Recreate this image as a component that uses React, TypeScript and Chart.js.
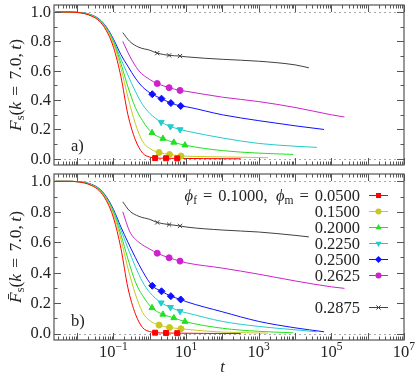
import React, { useEffect, useRef } from 'react';
import { Chart, registerables } from 'chart.js';

Chart.register(...registerables);

const FONT = '"Liberation Serif", "DejaVu Serif", serif';
const FS = 16.5;
const FS_TITLE = 17.5;

const X_MIN = 0.0023;
const X_MAX = 1e7;
const Y_MIN = -0.042;
const Y_MAX = 1.048;

const PHI_M = ['0.0500', '0.1500', '0.2000', '0.2250', '0.2500', '0.2625', '0.2875'];
const LEGEND_ROW = [0, 1, 2, 3, 4, 5, 7];
const COLORS = ['#ff0000', '#c8c820', '#22e022', '#22cccc', '#1010ff', '#cc22cc', '#404040'];
const STYLES = ['rect', 'circle', 'triangle', 'triangleDown', 'rectRot', 'circle', 'crossRot'];
const X_TICK_EXP = [-1, 1, 3, 5, 7];
const Y_TICKS = ['0.0', '0.2', '0.4', '0.6', '0.8', '1.0'];

// phi_m = 0.0500
const T_RED = [0.0025, 0.006, 0.01, 0.016, 0.025, 0.04, 0.063, 0.1, 0.16, 0.25, 0.4, 0.63, 1, 1.4, 2.8, 5.7, 10, 30, 100, 320];
const A_RED = [1, 1, 0.997, 0.989, 0.972, 0.94, 0.875, 0.76, 0.56, 0.3, 0.13, 0.04, 0.012, 0.005, 0.004, 0.003, 0.0025, 0.0015, 0.0008, 0.0003];
const B_RED = [1, 1, 0.997, 0.989, 0.972, 0.94, 0.875, 0.76, 0.56, 0.3, 0.13, 0.04, 0.013, 0.006, 0.004, 0.003, 0.0025, 0.0015, 0.0008, 0.0003];
const M_RED = [13, 14, 15];

// phi_m = 0.1500
const T_YEL = [0.0025, 0.006, 0.01, 0.016, 0.025, 0.04, 0.063, 0.1, 0.16, 0.25, 0.4, 0.63, 1, 1.8, 3.5, 7.2, 10, 100, 1000, 1800];
const A_YEL = [1, 1, 0.998, 0.99, 0.975, 0.945, 0.885, 0.785, 0.62, 0.42, 0.24, 0.12, 0.07, 0.043, 0.03, 0.02, 0.018, 0.013, 0.009, 0.008];
const B_YEL = [1, 1, 0.998, 0.99, 0.975, 0.945, 0.885, 0.785, 0.62, 0.43, 0.26, 0.14, 0.085, 0.056, 0.04, 0.032, 0.028, 0.01, 0.004, 0.003];
const M_YEL = [13, 14, 15];

// phi_m = 0.2000
const T_GRN = [0.0025, 0.006, 0.01, 0.016, 0.025, 0.04, 0.063, 0.1, 0.16, 0.25, 0.4, 0.63, 1.15, 2.3, 4.6, 9.3, 100, 1000, 9000];
const A_GRN = [1, 1, 0.998, 0.991, 0.977, 0.948, 0.89, 0.795, 0.65, 0.49, 0.35, 0.26, 0.177, 0.138, 0.112, 0.093, 0.056, 0.039, 0.03];
const B_GRN = [1, 1, 0.998, 0.991, 0.977, 0.948, 0.89, 0.795, 0.65, 0.49, 0.34, 0.25, 0.169, 0.126, 0.103, 0.079, 0.035, 0.015, 0.005];
const M_GRN = [12, 13, 14, 15];

// phi_m = 0.2250
const T_CYN = [0.0025, 0.006, 0.01, 0.016, 0.025, 0.04, 0.063, 0.1, 0.16, 0.25, 0.4, 0.63, 1, 2.05, 3.7, 6.8, 10, 100, 1000, 10000, 40000];
const A_CYN = [1, 1, 0.998, 0.992, 0.978, 0.95, 0.895, 0.805, 0.68, 0.57, 0.46, 0.37, 0.31, 0.25, 0.22, 0.2, 0.19, 0.142, 0.105, 0.086, 0.078];
const B_CYN = [1, 1, 0.998, 0.992, 0.978, 0.95, 0.895, 0.805, 0.68, 0.56, 0.44, 0.34, 0.27, 0.203, 0.173, 0.147, 0.137, 0.08, 0.047, 0.025, 0.012];
const M_CYN = [13, 14, 15];

// phi_m = 0.2500
const T_BLU = [0.0025, 0.006, 0.01, 0.016, 0.025, 0.04, 0.063, 0.1, 0.16, 0.25, 0.4, 0.63, 1.17, 2.1, 3.8, 7.1, 10, 100, 1000, 10000, 63000];
const A_BLU = [1, 1, 0.998, 0.993, 0.98, 0.953, 0.9, 0.815, 0.71, 0.63, 0.55, 0.49, 0.44, 0.41, 0.38, 0.36, 0.355, 0.3, 0.26, 0.225, 0.2];
const B_BLU = [1, 1, 0.998, 0.993, 0.98, 0.953, 0.9, 0.815, 0.7, 0.6, 0.5, 0.41, 0.314, 0.278, 0.246, 0.224, 0.21, 0.143, 0.08, 0.038, 0.012];
const M_BLU = [12, 13, 14, 15];

// phi_m = 0.2625
const T_MAG = [0.18, 0.28, 0.5, 1, 1.6, 3.4, 6.8, 10, 100, 1000, 10000, 100000, 230000];
const A_MAG = [0.8, 0.7, 0.6, 0.54, 0.513, 0.485, 0.466, 0.46, 0.42, 0.39, 0.35, 0.3, 0.285];
const B_MAG = [0.8, 0.67, 0.6, 0.555, 0.528, 0.498, 0.476, 0.465, 0.43, 0.39, 0.346, 0.307, 0.297];
const M_MAG = [4, 5, 6];

// phi_m = 0.2875
const T_BLK = [0.18, 0.28, 0.5, 1, 1.6, 3.4, 6.8, 10, 100, 1000, 10000, 24000];
const A_BLK = [0.86, 0.8, 0.76, 0.74, 0.72, 0.705, 0.7, 0.695, 0.678, 0.665, 0.64, 0.62];
const B_BLK = [0.865, 0.805, 0.77, 0.75, 0.73, 0.716, 0.707, 0.7, 0.68, 0.667, 0.645, 0.635];
const M_BLK = [4, 5, 6];

const SERIES = [
  { t: T_RED, a: A_RED, b: B_RED, m: M_RED },
  { t: T_YEL, a: A_YEL, b: B_YEL, m: M_YEL },
  { t: T_GRN, a: A_GRN, b: B_GRN, m: M_GRN },
  { t: T_CYN, a: A_CYN, b: B_CYN, m: M_CYN },
  { t: T_BLU, a: A_BLU, b: B_BLU, m: M_BLU },
  { t: T_MAG, a: A_MAG, b: B_MAG, m: M_MAG },
  { t: T_BLK, a: A_BLK, b: B_BLK, m: M_BLK },
];

type Seg = { t: string; italic?: boolean; sub?: boolean; sup?: boolean; pad?: number };

function segFont(s: Seg, size: number) {
  const sz = s.sub || s.sup ? size * 0.7 : size;
  return `${s.italic ? 'italic ' : ''}${sz}px ${FONT}`;
}
function segWidth(ctx: CanvasRenderingContext2D, s: Seg, size: number) {
  ctx.font = segFont(s, size);
  return ctx.measureText(s.t).width + 2 * (s.pad || 0) * size;
}
function drawRich(ctx: CanvasRenderingContext2D, segs: Seg[], x: number, y: number, size: number, align: string) {
  let w = 0;
  for (const s of segs) w += segWidth(ctx, s, size);
  let cx = align === 'left' ? x : align === 'center' ? x - w / 2 : x - w;
  ctx.textAlign = 'left';
  ctx.textBaseline = 'alphabetic';
  for (const s of segs) {
    const sw = segWidth(ctx, s, size);
    ctx.font = segFont(s, size);
    const dy = s.sub ? size * 0.22 : s.sup ? -size * 0.42 : 0;
    ctx.fillText(s.t, cx + (s.pad || 0) * size, y + dy);
    cx += sw;
  }
}

function drawMarker(ctx: CanvasRenderingContext2D, style: string, x: number, y: number, color: string) {
  ctx.save();
  ctx.fillStyle = color;
  ctx.strokeStyle = color;
  ctx.lineWidth = 1;
  ctx.beginPath();
  const r = 3.5;
  if (style === 'rect') {
    const s = r * Math.SQRT1_2;
    ctx.rect(x - s, y - s, 2 * s, 2 * s);
    ctx.fill();
  } else if (style === 'circle') {
    ctx.arc(x, y, 3, 0, Math.PI * 2);
    ctx.fill();
  } else if (style === 'triangle' || style === 'triangleDown') {
    const d = style === 'triangle' ? 1 : -1;
    ctx.moveTo(x, y - d * r);
    ctx.lineTo(x + r * 0.866, y + d * r / 2);
    ctx.lineTo(x - r * 0.866, y + d * r / 2);
    ctx.closePath();
    ctx.fill();
  } else if (style === 'rectRot') {
    ctx.moveTo(x, y - r);
    ctx.lineTo(x + r, y);
    ctx.lineTo(x, y + r);
    ctx.lineTo(x - r, y);
    ctx.closePath();
    ctx.fill();
  } else {
    const s = 3 * Math.SQRT1_2;
    ctx.moveTo(x - s, y - s);
    ctx.lineTo(x + s, y + s);
    ctx.moveTo(x + s, y - s);
    ctx.lineTo(x - s, y + s);
    ctx.stroke();
  }
  ctx.restore();
}

function buildDatasets(panel: 'a' | 'b') {
  const marks = SERIES.map((s, i) => {
    const st = STYLES[i];
    return {
      type: 'line',
      showLine: false,
      data: s.m.map((j) => ({ x: s.t[j], y: s[panel][j] })),
      pointStyle: st === 'triangleDown' ? 'triangle' : st,
      pointRotation: st === 'triangleDown' ? 180 : 0,
      pointRadius: st === 'circle' ? 3 : st === 'crossRot' ? 3 : 3.5,
      pointBackgroundColor: COLORS[i],
      pointBorderColor: COLORS[i],
      pointBorderWidth: 1,
      borderColor: COLORS[i],
      backgroundColor: COLORS[i],
    };
  });
  const lines = SERIES.map((s, i) => ({
    type: 'line',
    data: s.t.map((t, j) => ({ x: t, y: s[panel][j] })),
    borderColor: COLORS[i],
    backgroundColor: COLORS[i],
    borderWidth: 1,
    pointRadius: 0,
    fill: false,
    cubicInterpolationMode: 'monotone',
  }));
  return [...marks, ...lines];
}

const EQ_PAD = 0.36;

function makePlugin(panel: 'a' | 'b') {
  return {
    id: 'deco' + panel,
    beforeDatasetsDraw(chart: any) {
      const { ctx, chartArea } = chart;
      const ys = chart.scales.y;
      ctx.save();
      ctx.strokeStyle = '#a8a8a8';
      ctx.lineWidth = 1;
      ctx.setLineDash([2, 3]);
      for (const v of [0, 1]) {
        const py = Math.round(ys.getPixelForValue(v)) + 0.5;
        ctx.beginPath();
        ctx.moveTo(chartArea.left, py);
        ctx.lineTo(chartArea.right, py);
        ctx.stroke();
      }
      ctx.restore();
    },
    afterDraw(chart: any) {
      const { ctx, chartArea } = chart;
      const { left, right, top, bottom } = chartArea;
      const xs = chart.scales.x;
      const ys = chart.scales.y;
      ctx.save();
      ctx.strokeStyle = '#555';
      ctx.lineWidth = 1.2;
      ctx.setLineDash([]);
      ctx.strokeRect(left, top, right - left, bottom - top);
      ctx.lineWidth = 1;
      ctx.beginPath();
      for (let k = 0; k <= 10; k++) {
        const py = Math.round(ys.getPixelForValue(k / 10)) + 0.5;
        const len = k % 2 === 0 ? 7 : 3.5;
        ctx.moveTo(left, py);
        ctx.lineTo(left + len, py);
        ctx.moveTo(right, py);
        ctx.lineTo(right - len, py);
      }
      for (let e = -3; e <= 7; e++) {
        for (let m = 1; m <= 9; m++) {
          const v = m * Math.pow(10, e);
          if (v < X_MIN || v > X_MAX) continue;
          const px = Math.round(xs.getPixelForValue(v)) + 0.5;
          const len = m === 1 ? 7 : 3.5;
          ctx.moveTo(px, bottom);
          ctx.lineTo(px, bottom - len);
          ctx.moveTo(px, top);
          ctx.lineTo(px, top + len);
        }
      }
      ctx.stroke();

      ctx.fillStyle = '#222';
      ctx.font = `${FS}px ${FONT}`;
      ctx.textAlign = 'right';
      ctx.textBaseline = 'middle';
      Y_TICKS.forEach((lab) => {
        ctx.fillText(lab, 51, ys.getPixelForValue(parseFloat(lab)) + 0.5);
      });

      // y title
      const cy = (top + bottom) / 2;
      const titleSegs: Seg[] = [
        { t: panel === 'a' ? 'F' : 'F\u0304', italic: true },
        { t: 's', sub: true },
        { t: '(' },
        { t: 'k', italic: true },
        { t: '=', pad: EQ_PAD },
        { t: '7.0,\u2009' },
        { t: 't', italic: true },
        { t: ')' },
      ];
      ctx.save();
      ctx.translate(15, cy);
      ctx.rotate(-Math.PI / 2);
      drawRich(ctx, titleSegs, 0, 5.5, FS_TITLE, 'center');
      ctx.restore();

      // panel label
      ctx.font = `${FS}px ${FONT}`;
      ctx.textAlign = 'left';
      ctx.textBaseline = 'alphabetic';
      ctx.fillText(panel === 'a' ? 'a)' : 'b)', 71, bottom - 14);

      if (panel === 'b') {
        // x tick labels
        X_TICK_EXP.forEach((e) => {
          const px = xs.getPixelForValue(Math.pow(10, e));
          drawRich(ctx, [{ t: '10' }, { t: (e < 0 ? '\u2212' : '') + Math.abs(e), sup: true }], px, bottom + 17, FS, 'center');
        });
        drawRich(ctx, [{ t: 't', italic: true }], xs.getPixelForValue(100), bottom + 32, FS, 'center');

        // legend
        PHI_M.forEach((lab, i) => {
          const ry = top + 21 + 16 * LEGEND_ROW[i];
          const segs: Seg[] = i === 0
            ? [
                { t: '\u03d5', italic: true },
                { t: 'f', sub: true },
                { t: '=', pad: EQ_PAD },
                { t: '0.1000,\u2002' },
                { t: '\u03d5', italic: true },
                { t: 'm', sub: true },
                { t: '=', pad: EQ_PAD },
                { t: lab },
              ]
            : [{ t: lab }];
          ctx.fillStyle = '#222';
          drawRich(ctx, segs, 360, ry + 5.5, FS, 'right');
          ctx.strokeStyle = COLORS[i];
          ctx.lineWidth = 1;
          ctx.beginPath();
          ctx.moveTo(369, ry + 0.5);
          ctx.lineTo(388, ry + 0.5);
          ctx.stroke();
          drawMarker(ctx, STYLES[i], 378.5, ry + 0.5, COLORS[i]);
        });
      }
      ctx.restore();
    },
  };
}

function makeChart(canvas: HTMLCanvasElement, panel: 'a' | 'b') {
  return new Chart(canvas, {
    type: 'line',
    data: { datasets: buildDatasets(panel) as any },
    options: {
      animation: false,
      responsive: false,
      devicePixelRatio: 1,
      events: [],
      layout: { padding: { left: 54, right: 11, top: 1, bottom: panel === 'a' ? 1 : 34 } },
      scales: {
        x: { type: 'logarithmic', display: false, min: X_MIN, max: X_MAX, bounds: 'data' },
        y: { type: 'linear', display: false, min: Y_MIN, max: Y_MAX, bounds: 'data' },
      },
      plugins: { legend: { display: false }, tooltip: { enabled: false } },
    } as any,
    plugins: [makePlugin(panel)],
  });
}

export default function App() {
  const refA = useRef<HTMLCanvasElement>(null);
  const refB = useRef<HTMLCanvasElement>(null);
  useEffect(() => {
    const ca = makeChart(refA.current!, 'a');
    const cb = makeChart(refB.current!, 'b');
    return () => {
      ca.destroy();
      cb.destroy();
    };
  }, []);
  return (
    <div style={{ position: 'fixed', left: 0, top: 0, width: 415, height: 374, background: '#fff' }}>
      <canvas ref={refA} width={415} height={170} style={{ position: 'absolute', left: 0, top: 0, width: 415, height: 170 }} />
      <canvas ref={refB} width={415} height={205} style={{ position: 'absolute', left: 0, top: 169, width: 415, height: 205 }} />
    </div>
  );
}
